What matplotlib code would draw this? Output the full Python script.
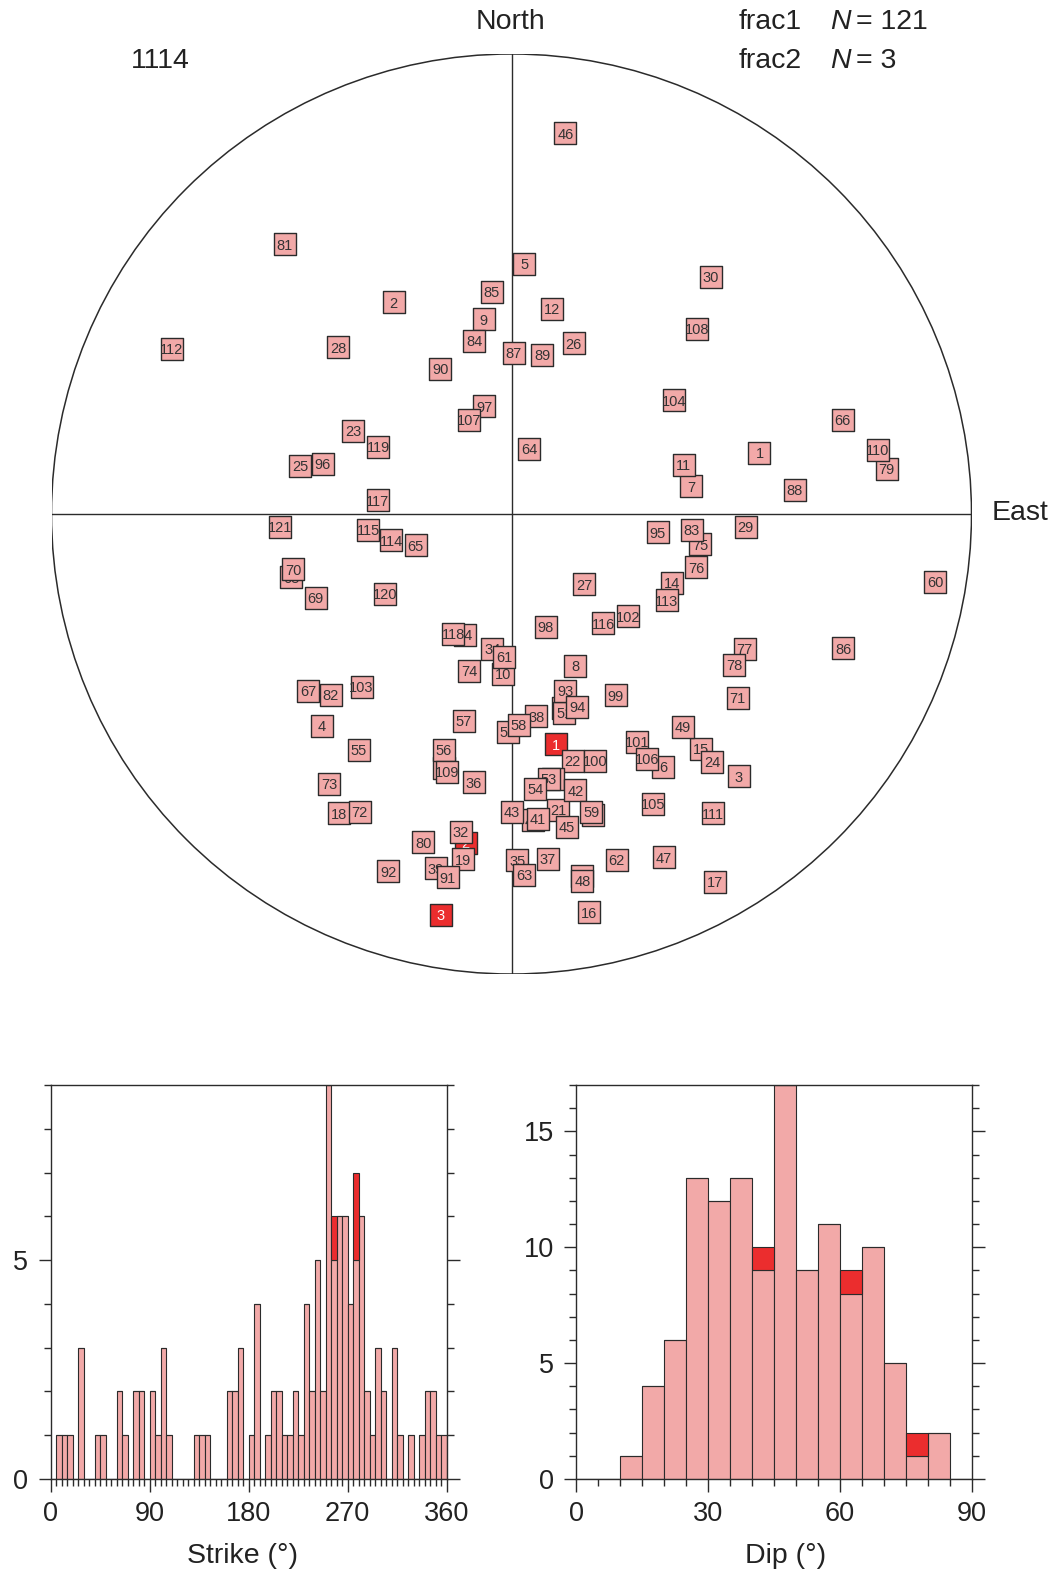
import numpy as np
import matplotlib.pyplot as plt
from matplotlib.patches import Circle
from matplotlib.ticker import MultipleLocator

plt.rcParams['font.family'] = ['Liberation Sans', 'DejaVu Sans']

PINK = '#f2a9a8'
RED = '#eb2d2e'
INK = '#2b2b2b'

# poles on the lower-hemisphere equal-area net (unit radius, x = east, y = north)
f1_id = list(range(1, 122))
f1_x = [0.539, -0.256, 0.494, -0.413, 0.028, 0.329, 0.391, 0.139, -0.060, -0.018,
        0.374, 0.087, 0.153, 0.349, 0.412, 0.168, 0.442, -0.376, -0.105, 0.177,
        0.102, 0.133, -0.344, 0.436, -0.460, 0.135, 0.158, -0.377, 0.509, 0.433,
        -0.146, -0.110, 0.090, -0.042, 0.013, -0.082, 0.079, 0.054, -0.164, 0.047,
        0.058, 0.139, 0.000, -0.101, 0.120, 0.117, 0.332, 0.154, 0.373, 0.113,
        0.115, -0.008, 0.081, 0.052, -0.332, -0.147, -0.104, 0.016, 0.173, 0.921,
        -0.016, 0.229, 0.027, 0.038, -0.208, 0.720, -0.442, -0.479, -0.426, -0.475,
        0.492, -0.330, -0.396, -0.092, 0.410, 0.401, 0.507, 0.484, 0.816, -0.192,
        -0.493, -0.393, 0.392, -0.081, -0.043, 0.721, 0.005, 0.616, 0.067, -0.155,
        -0.139, -0.268, 0.117, 0.143, 0.318, -0.410, -0.059, 0.074, 0.227, 0.182,
        0.273, 0.254, -0.326, 0.354, 0.307, 0.294, -0.092, 0.403, -0.140, 0.796,
        0.438, -0.739, 0.338, -0.261, -0.311, 0.199, -0.291, -0.127, -0.290, -0.275,
        -0.503]
f1_y = [0.133, 0.460, -0.570, -0.460, 0.544, -0.549, 0.060, -0.330, 0.423, -0.348,
        0.107, 0.446, -0.788, -0.149, -0.510, -0.866, -0.799, -0.651, -0.751, -0.655,
        -0.643, -0.537, 0.181, -0.539, 0.105, 0.371, -0.153, 0.362, -0.028, 0.515,
        -0.552, -0.691, -0.576, -0.293, -0.753, -0.583, -0.750, -0.440, -0.770, -0.666,
        -0.662, -0.601, -0.647, -0.262, -0.680, 0.828, -0.746, -0.798, -0.462, -0.422,
        -0.432, -0.474, -0.576, -0.597, -0.512, -0.512, -0.450, -0.458, -0.647, -0.147,
        -0.310, -0.752, -0.785, 0.142, -0.068, 0.205, -0.384, -0.138, -0.182, -0.120,
        -0.400, -0.648, -0.587, -0.341, -0.066, -0.116, -0.293, -0.328, 0.098, -0.714,
        0.586, -0.393, -0.035, 0.376, 0.483, -0.292, 0.350, 0.053, 0.346, 0.315,
        -0.790, -0.777, -0.385, -0.419, -0.040, 0.109, 0.234, -0.245, -0.394, -0.536,
        -0.495, -0.222, -0.375, 0.247, -0.630, -0.532, 0.205, 0.402, -0.560, 0.139,
        -0.651, 0.359, -0.188, -0.057, -0.034, -0.238, 0.030, -0.260, 0.146, -0.173,
        -0.028]

f2_id = [1, 2, 3]
f2_x = [0.097, -0.100, -0.154]
f2_y = [-0.501, -0.715, -0.871]

# 5-degree bin counts
strike_edges = np.arange(0, 360, 5)
strike_f1 = [0, 1, 1, 1, 0, 3, 0, 0, 1, 1,
             0, 0, 2, 1, 0, 2, 2, 0, 2, 1,
             3, 1, 0, 0, 0, 0, 1, 1, 1, 0,
             0, 0, 2, 2, 3, 0, 1, 4, 0, 1,
             2, 2, 1, 1, 2, 1, 4, 2, 5, 2,
             9, 5, 6, 6, 4, 5, 6, 2, 1, 3,
             2, 0, 3, 1, 0, 1, 0, 1, 2, 2,
             1, 1]
strike_f2 = [0] * 72
strike_f2[51] = 1
strike_f2[55] = 2

dip_edges = np.arange(0, 90, 5)
dip_f1 = [0, 0, 1, 4, 6, 13, 12, 13, 9, 17, 9, 11, 8, 10, 5, 1, 2, 0]
dip_f2 = [0, 0, 0, 0, 0, 0, 0, 0, 1, 0, 0, 0, 1, 0, 0, 1, 0, 0]

W, H = 1056, 1573
fig = plt.figure(figsize=(W / 100, H / 100), dpi=100)


def rect(left, top, width, height):
    return [left / W, 1 - (top + height) / H, width / W, height / H]


def ftext(px, py, s, **kw):
    fig.text(px / W, 1 - py / H, s, va='center', color='#222222', **kw)


# ---- stereonet ----
net = fig.add_axes(rect(51.5, 54, 920, 920))
net.set_xlim(-1, 1)
net.set_ylim(-1, 1)
net.axis('off')
net.add_patch(Circle((0, 0), 1, fill=False, ec=INK, lw=1.1, zorder=1))
net.plot([-1, 1], [0, 0], color=INK, lw=1.0, zorder=1)
net.plot([0, 0], [-1, 1], color=INK, lw=1.0, zorder=1)

z = 3
for ids, xs, ys, fc, tc in [(f2_id, f2_x, f2_y, RED, 'white'),
                            (f1_id, f1_x, f1_y, PINK, '#333333')]:
    for n, x, y in zip(ids, xs, ys):
        net.scatter([x], [y], s=235, marker='s', c=fc, edgecolors=INK,
                    linewidths=1.0, zorder=z, clip_on=False)
        net.annotate(str(n), (x, y), xytext=(0, -1), textcoords='offset points',
                     ha='center', va='center', fontsize=10.5, color=tc,
                     zorder=z + 0.5)
        z += 1

ftext(510, 22, 'North', ha='center', fontsize=20.5)
ftext(1020, 513, 'East', ha='center', fontsize=20.5)
ftext(160, 61, '1114', ha='center', fontsize=20.5)
for py, name, count in [(22, 'frac1', len(f1_id)), (61, 'frac2', len(f2_id))]:
    ftext(739, py, name, ha='left', fontsize=20.5)
    ftext(830, py, 'N', ha='left', fontsize=20.5, style='italic')
    ftext(856, py, '= %d' % count, ha='left', fontsize=20.5)


# ---- histograms ----
def histogram(ax, edges, lower, upper, xmax, xmajor, ymax, ymajor, label, lx):
    ax.bar(edges, lower, width=5, align='edge', color=PINK, edgecolor=INK,
           linewidth=0.8, zorder=2)
    ax.bar(edges, upper, bottom=lower, width=5, align='edge', color=RED,
           edgecolor=INK, linewidth=0.8, zorder=2)
    ax.set_xlim(0, xmax)
    ax.set_ylim(0, ymax)
    ax.xaxis.set_major_locator(MultipleLocator(xmajor))
    ax.xaxis.set_minor_locator(MultipleLocator(5))
    ax.yaxis.set_major_locator(MultipleLocator(ymajor))
    ax.yaxis.set_minor_locator(MultipleLocator(1))
    ax.tick_params(which='both', direction='out', color=INK, width=1.0,
                   left=True, right=True, top=False, bottom=True,
                   labelsize=19.5, labelcolor='#222222')
    ax.tick_params(which='major', length=9, pad=7)
    ax.tick_params(which='minor', length=5)
    for sp in ax.spines.values():
        sp.set_color(INK)
        sp.set_linewidth(1.0)
    ax.set_xlabel(label, fontsize=20.5, color='#222222')
    ax.xaxis.set_label_coords(lx, -0.162)


ax1 = fig.add_axes(rect(50.5, 1085, 396, 394))
histogram(ax1, strike_edges, strike_f1, strike_f2, 360, 90, 9, 5,
          'Strike (°)', 0.484)

ax2 = fig.add_axes(rect(576, 1085, 396, 394))
histogram(ax2, dip_edges, dip_f1, dip_f2, 90, 30, 17, 5,
          'Dip (°)', 0.528)

fig.savefig('out.png', dpi=100)
